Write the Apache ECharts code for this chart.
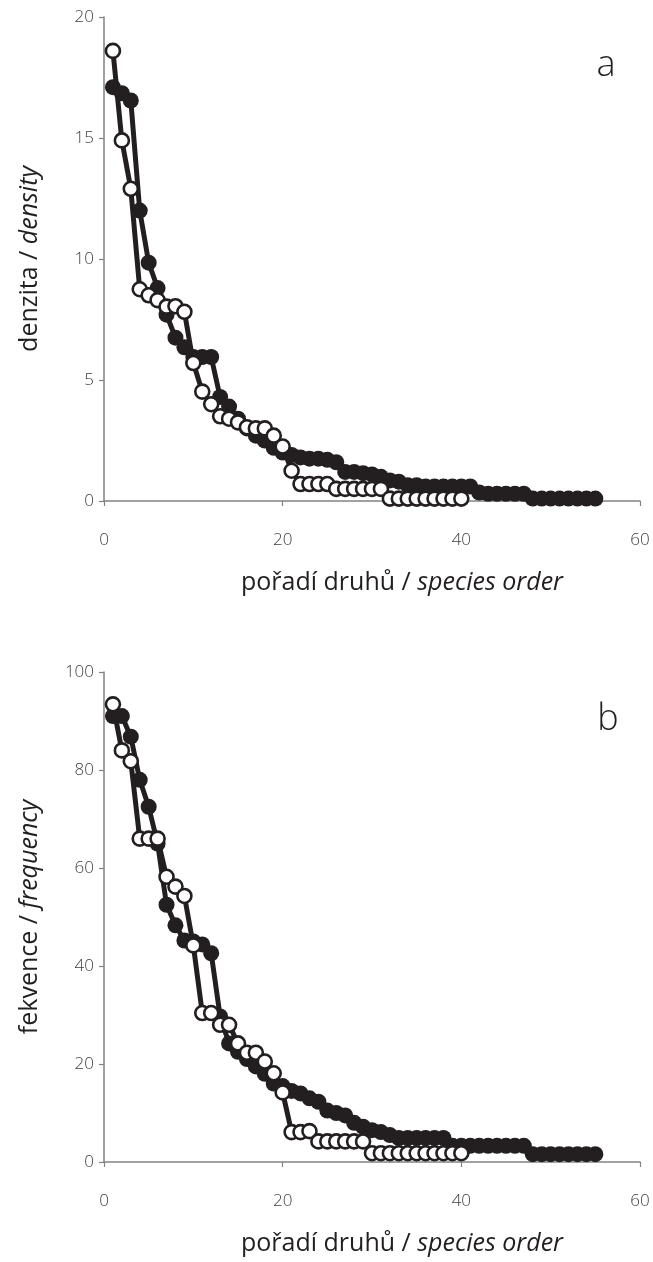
<!DOCTYPE html>
<html><head><meta charset="utf-8">
<script src="https://cdn.jsdelivr.net/npm/echarts@6/dist/echarts.min.js"></script>
<style>html,body{margin:0;padding:0;background:#fff}#c{width:653px;height:1262px}</style>
</head><body><div id="c"></div>
<script>
// species order runs 1..N for each series
const densityFilled = [17.1, 16.85, 16.55, 12.0, 9.85, 8.8, 7.7, 6.75, 6.35, 5.95,
  5.95, 5.95, 4.3, 3.9, 3.4, 3.0, 2.7, 2.5, 2.2, 2.0,
  1.9, 1.8, 1.75, 1.75, 1.7, 1.6, 1.2, 1.2, 1.15, 1.1,
  1.0, 0.85, 0.8, 0.65, 0.65, 0.6, 0.6, 0.6, 0.6, 0.6,
  0.6, 0.35, 0.3, 0.3, 0.3, 0.3, 0.3, 0.1, 0.1, 0.1,
  0.1, 0.1, 0.1, 0.1, 0.1];
const densityOpen = [18.6, 14.9, 12.9, 8.75, 8.5, 8.3, 8.03, 8.05, 7.82, 5.7,
  4.52, 4.0, 3.5, 3.4, 3.25, 3.05, 3.0, 3.0, 2.7, 2.25,
  1.25, 0.7, 0.7, 0.7, 0.7, 0.5, 0.5, 0.5, 0.5, 0.5,
  0.5, 0.1, 0.1, 0.1, 0.1, 0.1, 0.1, 0.1, 0.1, 0.1];
const frequencyFilled = [91, 91, 86.8, 78, 72.5, 65, 52.5, 48.3, 45.2, 45,
  44.4, 42.6, 29.7, 24.2, 22.5, 21, 19.5, 18, 16, 15.5,
  14.5, 14, 13, 12.3, 10.5, 10, 9.5, 8, 7.2, 6.5,
  6.1, 5.5, 4.9, 4.9, 4.9, 4.9, 4.9, 4.9, 3.3, 3.3,
  3.3, 3.3, 3.3, 3.3, 3.3, 3.3, 3.3, 1.6, 1.6, 1.6,
  1.6, 1.6, 1.6, 1.6, 1.6];
const frequencyOpen = [93.4, 84, 81.8, 66, 66, 66, 58.2, 56.2, 54.3, 44.2,
  30.4, 30.4, 28, 28, 24.2, 22.3, 22.3, 20.5, 18.1, 14.2,
  6.1, 6.1, 6.3, 4.2, 4.2, 4.2, 4.2, 4.2, 4.2, 1.8,
  1.8, 1.8, 1.8, 1.8, 1.8, 1.8, 1.8, 1.8, 1.8, 1.8];

const xTitle = ['pořadí druhů / ', 'species order'];
const yTitleTop = ['denzita / ', 'density'];
const yTitleBottom = ['fekvence / ', 'frequency'];
const panelLetters = ['a', 'b'];

const INK = '#231f20';
const AXIS = '#808285';
const FONT = "'Open Sans', 'Noto Sans', sans-serif";

const toPairs = arr => arr.map((v, i) => [i + 1, v]);

const nameRich = {
  n: {fontSize: 25, fontFamily: FONT, fontWeight: 400, color: INK},
  i: {fontSize: 25, fontFamily: FONT, fontWeight: 400, color: INK, fontStyle: 'italic'}
};

function xAxis(gridIndex) {
  return {
    type: 'value', gridIndex, min: 0, max: 60, interval: 20,
    name: '{n|' + xTitle[0] + '}{i|' + xTitle[1] + '}',
    nameLocation: 'middle', nameGap: 69,
    nameTextStyle: {rich: nameRich, padding: [0, 0, 0, 60]},
    axisLine: {lineStyle: {color: AXIS, width: 1.5}},
    axisTick: {length: 5, lineStyle: {color: AXIS, width: 1.2}},
    axisLabel: {margin: 31, fontSize: 17, fontFamily: FONT, fontWeight: 300, color: '#414042'},
    splitLine: {show: false}
  };
}
function yAxis(gridIndex, max, interval, title) {
  return {
    type: 'value', gridIndex, min: 0, max, interval,
    name: '{n|' + title[0] + '}{i|' + title[1] + '}',
    nameLocation: 'middle', nameGap: 62, nameRotate: 90,
    nameTextStyle: {rich: nameRich},
    axisLine: {show: true, lineStyle: {color: AXIS, width: 1.5}},
    axisTick: {show: true, length: 5, lineStyle: {color: AXIS, width: 1.2}},
    axisLabel: {margin: 10, fontSize: 17, fontFamily: FONT, fontWeight: 300, color: '#414042'},
    splitLine: {show: false}
  };
}
function filled(idx, data) {
  return {
    type: 'line', xAxisIndex: idx, yAxisIndex: idx, data: toPairs(data),
    symbol: 'circle', symbolSize: 16,
    itemStyle: {color: INK},
    lineStyle: {color: INK, width: 5},
    z: 2
  };
}
function open(idx, data) {
  return {
    type: 'line', xAxisIndex: idx, yAxisIndex: idx, data: toPairs(data),
    symbol: 'circle', symbolSize: 14, showAllSymbol: true,
    itemStyle: {color: '#ffffff', borderColor: INK, borderWidth: 2.6},
    lineStyle: {color: INK, width: 5},
    z: 3
  };
}

const chart = echarts.init(document.getElementById('c'), null, {renderer: 'canvas'});
chart.setOption({
  animation: false,
  backgroundColor: '#ffffff',
  grid: [
    {left: 104, top: 17, width: 536, height: 484},
    {left: 104, top: 672, width: 536, height: 490}
  ],
  xAxis: [xAxis(0), xAxis(1)],
  yAxis: [yAxis(0, 20, 5, yTitleTop), yAxis(1, 100, 20, yTitleBottom)],
  graphic: [
    {type: 'text', x: 606, y: 66, style: {text: panelLetters[0], font: '300 36px ' + FONT, fill: INK, align: 'center', verticalAlign: 'middle'}},
    {type: 'text', x: 608, y: 720, style: {text: panelLetters[1], font: '300 36px ' + FONT, fill: INK, align: 'center', verticalAlign: 'middle'}}
  ],
  series: [
    filled(0, densityFilled), open(0, densityOpen),
    filled(1, frequencyFilled), open(1, frequencyOpen)
  ]
});
</script>
</body></html>
